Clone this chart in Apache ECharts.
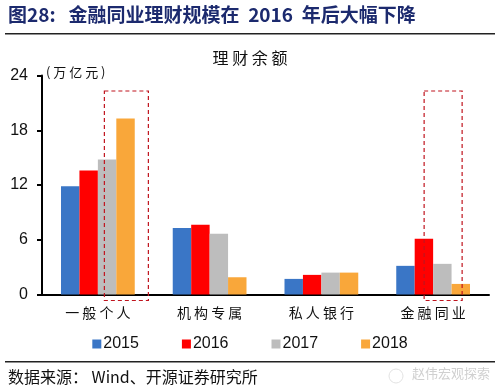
<!DOCTYPE html>
<html>
<head>
<meta charset="utf-8">
<script src="https://cdn.jsdelivr.net/npm/echarts@6/dist/echarts.min.js"></script>
<style>
html,body{margin:0;padding:0;background:#fff;}
#c{width:500px;height:391px;}
</style>
</head>
<body>
<div id="c"></div>
<script>
var categories = ['一般个人', '机构专属', '私人银行', '金融同业'];
var seriesNames = ['2015', '2016', '2017', '2018'];
var v2015 = [11.87, 7.29, 1.71, 3.14];
var v2016 = [13.6, 7.65, 2.15, 6.11];
var v2017 = [14.8, 6.66, 2.4, 3.36];
var v2018 = [19.3, 1.89, 2.4, 1.16];
var yTicks = [0, 6, 12, 18, 24];
var colors = ['#3A76C6', '#FF0000', '#BDBDBD', '#F9A73A'];

var cjk = '"Noto Sans CJK SC", sans-serif';
var chart = echarts.init(document.getElementById('c'));
var allVals = [v2015, v2016, v2017, v2018];
var series = allVals.map(function (vals, i) {
  return {
    name: seriesNames[i],
    type: 'bar',
    data: vals,
    barGap: '0%',
    barCategoryGap: '34%',
    itemStyle: { color: colors[i] },
    animation: false
  };
});

function spaced(s) { return s.split('').join(' '); }

chart.setOption({
  animation: false,
  grid: { left: 42, right: 11, top: 75.5, bottom: 96.5 },
  title: [{
    text: spaced('理财余额'),
    left: 'center', top: 45,
    textStyle: { fontFamily: cjk, fontSize: 16, fontWeight: 'normal', color: '#111' }
  }],
  legend: {
    data: seriesNames,
    top: 331, left: 'center',
    itemWidth: 9, itemHeight: 9, itemGap: 43,
    icon: 'rect',
    textStyle: { fontFamily: 'Liberation Sans, Arial', fontSize: 16, color: '#111', padding: [0, 0, 0, -3] }
  },
  xAxis: {
    type: 'category',
    data: categories,
    axisLine: { lineStyle: { color: '#000', width: 2 } },
    axisTick: { show: false },
    axisLabel: { fontFamily: cjk, fontSize: 14, color: '#111', margin: 11, formatter: function (v) { return spaced(v); } }
  },
  yAxis: {
    type: 'value',
    min: yTicks[0], max: yTicks[yTicks.length - 1], interval: 6,
    axisLine: { show: true, lineStyle: { color: '#000', width: 2 } },
    axisTick: { show: true, length: 5, lineStyle: { color: '#000', width: 2 } },
    splitLine: { show: false },
    axisLabel: { fontFamily: 'Liberation Sans, Arial', fontSize: 16, color: '#111', margin: 14 }
  },
  series: series
});

function boxAround(catIdx, offL, offR, topVal) {
  var c = chart.convertToPixel({ xAxisIndex: 0 }, categories[catIdx]);
  var yTop = chart.convertToPixel({ yAxisIndex: 0 }, topVal);
  var y0 = chart.convertToPixel({ yAxisIndex: 0 }, 0);
  return {
    type: 'rect',
    shape: { x: c + offL, y: yTop, width: offR - offL, height: y0 - yTop + 6 },
    style: { fill: null, stroke: '#C0141E', lineWidth: 1.2, lineDash: [4, 3] },
    z: 10
  };
}

chart.setOption({
  graphic: [
    { type: 'text', left: 8, top: 5,
      style: { text: '图28:   金融同业理财规模在  2016  年后大幅下降', fontFamily: cjk, fontSize: 19, fontWeight: 'bold', fill: '#1C2A6E' } },
    { type: 'rect', shape: { x: 5, y: 33, width: 490, height: 1.5 }, style: { fill: '#222' } },
    { type: 'text', left: 46, top: 66,
      style: { text: '( 万 亿 元 )', fontFamily: cjk, fontSize: 13, fill: '#111' } },
    boxAround(0, 6.5, 50.5, 22.3),
    boxAround(3, -9, 29, 22.3),
    { type: 'rect', shape: { x: 5, y: 361, width: 490, height: 1.5 }, style: { fill: '#222' } },
    { type: 'text', left: 8, top: 369,
      style: { text: '数据来源： Wind、开源证券研究所', fontFamily: cjk, fontSize: 16, fill: '#111' } },
    { type: 'circle', shape: { cx: 396, cy: 376, r: 7 }, style: { fill: null, stroke: '#e2e2e2', lineWidth: 1 } },
    { type: 'text', left: 412, top: 367,
      style: { text: '赵伟宏观探索', fontFamily: cjk, fontSize: 13, fill: '#d0d0d0' } }
  ]
});
</script>
</body>
</html>
